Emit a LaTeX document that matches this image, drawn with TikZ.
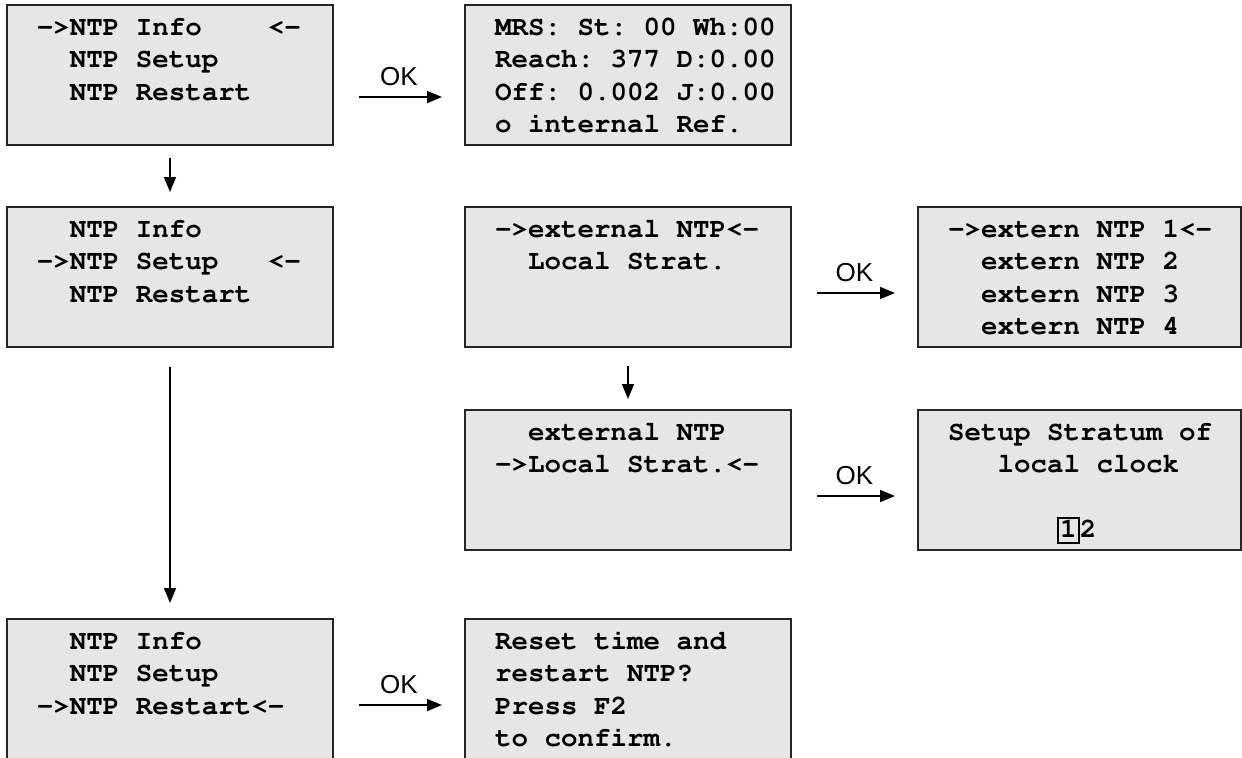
\documentclass[tikz,border=0pt]{standalone}
\usepackage[T1]{fontenc}
\usepackage{fontspec}
\usetikzlibrary{positioning,calc,arrows.meta}
\newcommand\lcdfont{\fontencoding{T1}\fontfamily{pcr}\fontseries{b}\selectfont}
\newfontfamily\keyfont{Liberation Sans}
\definecolor{PanelGray}{HTML}{E6E6E6}
\setlength{\fboxsep}{0.8pt}
\setlength{\fboxrule}{0.8pt}

\begin{document}
\begin{tikzpicture}[
  node distance=31pt and 66pt,
  blk/.style={draw=black!85, line width=1pt, fill=PanelGray, outer sep=0pt,
              minimum height=70pt, text width=133pt, inner xsep=15pt, inner ysep=0pt,
              text height=15pt, text depth=55pt, align=left,
              font=\lcdfont\fontsize{13.75}{16.25}\selectfont\frenchspacing,
              execute at begin node={\spaceskip=0.6em\relax}},
  arr/.style={-{Triangle[length=7.5pt,width=6pt]}, line width=0.8pt},
  okarr/.style={arr, shorten <=13pt, shorten >=11.5pt},
  ok/.style={above=2pt, font=\keyfont\fontsize{13}{15}\selectfont}
]
\useasboundingbox (-85pt,-341pt) rectangle (536pt,37.5pt);

\node[blk] (info) {->NTP~Info~~~~<-\\~~NTP Setup\\~~NTP Restart};
\node[blk, right=of info] (stat) {MRS:~St:~00~Wh:00\\Reach:~377~D:0.00\\Off:~0.002~J:0.00\\o~internal~Ref.};
\node[blk, below=of info] (setup) {~~NTP Info\\->NTP~Setup~~~<-\\~~NTP Restart};
\node[blk, right=of setup] (ext) {->external~NTP<-\\~~Local Strat.};
\node[blk, right=63.5pt of ext, text width=131.5pt] (srv) {->extern~NTP~1<-\\~~extern NTP 2\\~~extern NTP 3\\~~extern NTP 4};
\node[blk, below=31.5pt of ext] (loc) {~~external NTP\\->Local~Strat.<-};
\node[blk, right=63.5pt of loc, text width=131.5pt] (strat) {Setup~Stratum~of\\~~~local clock\\~\\~~~~~~\kern5pt\fbox{\rule[-1.5pt]{0pt}{10pt}1}2};
\node[blk, below=136pt of setup] (rst) {~~NTP Info\\~~NTP Setup\\->NTP~Restart<-};
\node[blk, right=of rst] (conf) {Reset time and\\restart NTP?\\Press F2\\to confirm.};

\draw[okarr] ($(info.east)+(0,-11pt)$) -- node[ok]{OK} ($(stat.west)+(0,-11pt)$);
\draw[okarr] ($(ext.east)+(0,-8pt)$) -- node[ok]{OK} ($(srv.west)+(0,-8pt)$);
\draw[okarr] ($(loc.east)+(0,-8pt)$) -- node[ok]{OK} ($(strat.west)+(0,-8pt)$);
\draw[okarr] ($(rst.east)+(0,-8pt)$) -- node[ok]{OK} ($(conf.west)+(0,-8pt)$);

\draw[arr, shorten <=6.5pt, shorten >=7.5pt] (info) -- (setup);
\draw[arr, shorten <=9.5pt, shorten >=5.5pt] (ext) -- (loc);
\draw[arr, shorten <=10pt, shorten >=8pt] (setup) -- (rst);
\end{tikzpicture}
\end{document}
